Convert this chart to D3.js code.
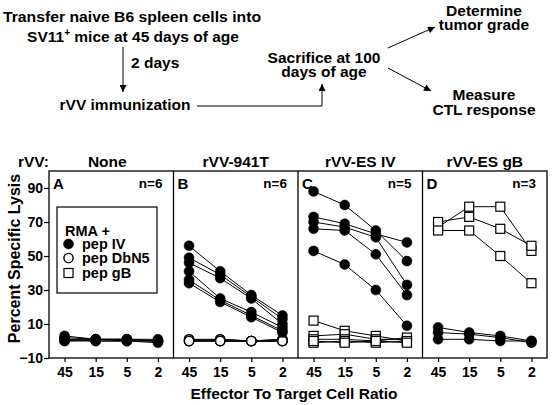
<!DOCTYPE html>
<html>
<head>
<meta charset="utf-8">
<script src="https://cdn.jsdelivr.net/npm/d3@7"></script>
<style>
  html, body { margin: 0; padding: 0; background: #fff; }
  svg { display: block; }
  text { font-family: "Liberation Sans", Arial, Helvetica, sans-serif; font-weight: bold; fill: #000; }
</style>
</head>
<body>
<svg id="chart" width="557" height="405"></svg>
<script>
// ---------- data ----------
const ratios = ["45", "15", "5", "2"];
const yTicks = [-10, 10, 30, 50, 70, 90];
const panelLetters = ["A", "B", "C", "D"];
const panelTitles = ["None", "rVV-941T", "rVV-ES IV", "rVV-ES gB"];
const panelN = ["n=6", "n=6", "n=5", "n=3"];

// Panel A (None): pep IV lines
const panelA_pepIV = [
  [3, 1, 1, 0],
  [2, 1, 1, 1],
  [1, 0, 0, 0],
  [0, 1, 1, 0],
  [0, 0, 0, -1],
  [1, 1, 0, 0]
];
// Panel B (rVV-941T)
const panelB_pepIV = [
  [56, 41, 27, 15],
  [49, 39, 26, 13],
  [46, 37, 25, 10],
  [41, 25, 17, 8],
  [36, 24, 15, 6],
  [34, 23, 14, 5]
];
const panelB_pepDbN5 = [
  [1, 1, 0, 0],
  [0, 0, 0, 1],
  [0, 1, 0, 0],
  [1, 0, 0, 0],
  [0, 0, 0, 1],
  [0, 0, 0, 0]
];
// Panel C (rVV-ES IV)
const panelC_pepIV = [
  [88, 80, 65, 47],
  [73, 69, 63, 58],
  [70, 67, 61, 33],
  [66, 65, 51, 27],
  [53, 45, 30, 9]
];
const panelC_pepgB = [
  [12, 6, 3, 0],
  [3, 4, 1, 1],
  [1, 1, 0, 2],
  [-1, 0, -1, 0],
  [0, -1, 0, -1]
];
// Panel D (rVV-ES gB)
const panelD_pepgB = [
  [67, 79, 79, 53],
  [70, 73, 66, 56],
  [65, 65, 50, 34]
];
const panelD_pepIV = [
  [8, 5, 3, 0],
  [5, 4, 2, -1],
  [1, 1, 0, 0]
];

const legendTitle = "RMA +";
const legendItems = [
  { label: "pep IV", type: "filled" },
  { label: "pep DbN5", type: "open" },
  { label: "pep gB", type: "square" }
];

// series per panel (drawing order)
const panels = [
  [{ type: "filled", lines: panelA_pepIV }],
  [{ type: "open", lines: panelB_pepDbN5 }, { type: "filled", lines: panelB_pepIV }],
  [{ type: "square", lines: panelC_pepgB }, { type: "filled", lines: panelC_pepIV }],
  [{ type: "filled", lines: panelD_pepIV }, { type: "square", lines: panelD_pepgB }]
];

// ---------- layout ----------
const svg = d3.select("#chart");
const plotLeft = 49, plotRight = 547, plotTop = 171, plotBottom = 358;
const panelW = (plotRight - plotLeft) / 4;

const y = d3.scaleLinear().domain([-10, 100]).range([plotBottom, plotTop]);

// ---------- flowchart ----------
const defs = svg.append("defs");
defs.append("marker")
  .attr("id", "arrow")
  .attr("viewBox", "0 0 10 10")
  .attr("refX", 10).attr("refY", 5)
  .attr("markerWidth", 10).attr("markerHeight", 7)
  .attr("markerUnits", "userSpaceOnUse")
  .attr("orient", "auto")
  .append("path").attr("d", "M0,0 L10,5 L0,10 z").attr("fill", "#000");

const flow = svg.append("g").attr("font-size", 15.5);
function ctext(x, yy, s, len) {
  const t = flow.append("text").attr("x", x).attr("y", yy).attr("text-anchor", "middle").text(s);
  if (len) t.attr("textLength", len).attr("lengthAdjust", "spacingAndGlyphs");
  return t;
}
ctext(132, 22, "Transfer naive B6 spleen cells into", 258);
const t2 = flow.append("text").attr("x", 133).attr("y", 42).attr("text-anchor", "middle");
t2.append("tspan").text("SV11");
t2.append("tspan").attr("font-size", 10).attr("dy", -6).text("+");
t2.append("tspan").attr("dy", 6).text(" mice at 45 days of age");

flow.append("line").attr("x1", 123).attr("y1", 47).attr("x2", 123).attr("y2", 92)
  .attr("stroke", "#000").attr("stroke-width", 1).attr("marker-end", "url(#arrow)");
flow.append("text").attr("x", 131).attr("y", 68).text("2 days");
ctext(125, 110, "rVV immunization");
flow.append("path").attr("d", "M197,106 L322,106 L322,84").attr("fill", "none")
  .attr("stroke", "#000").attr("stroke-width", 1).attr("marker-end", "url(#arrow)");
ctext(324, 63, "Sacrifice at 100");
ctext(324, 77, "days of age");
flow.append("line").attr("x1", 388).attr("y1", 48).attr("x2", 435).attr("y2", 27)
  .attr("stroke", "#000").attr("stroke-width", 1).attr("marker-end", "url(#arrow)");
flow.append("line").attr("x1", 388).attr("y1", 68).attr("x2", 431).attr("y2", 91)
  .attr("stroke", "#000").attr("stroke-width", 1).attr("marker-end", "url(#arrow)");
ctext(484, 16, "Determine");
ctext(484, 30, "tumor grade");
ctext(484, 100, "Measure");
ctext(484, 115, "CTL response");

// ---------- chart ----------
svg.append("text").attr("x", 18).attr("y", 161).attr("dominant-baseline", "central")
  .attr("font-size", 15.5).text("rVV:");

// y axis
const yAxis = d3.axisLeft(y).tickValues(yTicks).tickSize(5).tickFormat(d3.format("d"));
const yg = svg.append("g").attr("transform", `translate(${plotLeft},0)`).call(yAxis);
yg.select(".domain").remove();
yg.selectAll(".tick line").attr("stroke", "#000").attr("stroke-width", 1.2);
yg.selectAll(".tick text").attr("font-size", 14).attr("x", -6).attr("font-family", '"Liberation Sans", Arial, sans-serif').attr("font-weight", "bold").attr("fill", "#000");

svg.append("text").attr("transform", `translate(20,${(plotTop + plotBottom) / 2 - 6}) rotate(-90)`)
  .attr("text-anchor", "middle").attr("font-size", 16).text("Percent Specific Lysis");

function drawMarkers(g, x, type, vals) {
  if (type === "square") {
    g.selectAll(null).data(vals).join("rect")
      .attr("x", (d, i) => x(ratios[i]) - 4.5).attr("y", d => y(d) - 4.5)
      .attr("width", 9).attr("height", 9)
      .attr("fill", "#fff").attr("stroke", "#000").attr("stroke-width", 1.2);
  } else {
    g.selectAll(null).data(vals).join("circle")
      .attr("cx", (d, i) => x(ratios[i])).attr("cy", d => y(d))
      .attr("r", type === "filled" ? 5 : 4.6)
      .attr("fill", type === "filled" ? "#000" : "#fff")
      .attr("stroke", "#000").attr("stroke-width", type === "filled" ? 0.5 : 1.4);
  }
}

panels.forEach((series, pi) => {
  const x0 = plotLeft + pi * panelW;
  const x = d3.scalePoint().domain(ratios).range([x0, x0 + panelW]).padding(0.5);
  const g = svg.append("g");

  // x axis
  const xg = svg.append("g").attr("transform", `translate(0,${plotBottom})`)
    .call(d3.axisBottom(x).tickSize(4).tickPadding(5));
  xg.select(".domain").remove();
  xg.selectAll(".tick line").attr("stroke", "#000").attr("stroke-width", 1.2);
  xg.selectAll(".tick text").attr("font-size", 14).attr("font-family", '"Liberation Sans", Arial, sans-serif').attr("font-weight", "bold").attr("fill", "#000");

  // title
  svg.append("text").attr("x", x0 + panelW / 2 + (pi === 0 ? -4 : 0)).attr("y", 161)
    .attr("text-anchor", "middle").attr("dominant-baseline", "central").attr("font-size", 15.5).text(panelTitles[pi]);

  const line = d3.line().x((d, i) => x(ratios[i])).y(d => y(d));
  series.forEach(s => {
    s.lines.forEach(vals => {
      g.append("path").attr("d", line(vals)).attr("fill", "none").attr("stroke", "#000").attr("stroke-width", 1);
    });
  });
  series.forEach(s => {
    s.lines.forEach(vals => drawMarkers(g, x, s.type, vals));
  });

  svg.append("text").attr("x", x0 + 4).attr("y", plotTop + 12).attr("dominant-baseline", "central")
    .attr("font-size", 15).text(panelLetters[pi]);
  svg.append("text").attr("x", x0 + panelW - 11).attr("y", plotTop + 12).attr("dominant-baseline", "central")
    .attr("text-anchor", "end").attr("font-size", 13.5).text(panelN[pi]);

  if (pi > 0) {
    svg.append("line").attr("x1", x0).attr("x2", x0).attr("y1", plotTop).attr("y2", plotBottom)
      .attr("stroke", "#000").attr("stroke-width", 1.3);
  }
});

svg.append("rect").attr("x", plotLeft).attr("y", plotTop)
  .attr("width", plotRight - plotLeft).attr("height", plotBottom - plotTop)
  .attr("fill", "none").attr("stroke", "#000").attr("stroke-width", 1.3);

svg.append("text").attr("x", 294).attr("y", 393).attr("text-anchor", "middle")
  .attr("dominant-baseline", "central").attr("font-size", 15.5).text("Effector To Target Cell Ratio");

// legend
const lg = svg.append("g");
lg.append("rect").attr("x", 57).attr("y", 207).attr("width", 100).attr("height", 86)
  .attr("fill", "#fff").attr("stroke", "#000").attr("stroke-width", 1.2);
lg.append("text").attr("x", 65).attr("y", 231).attr("dominant-baseline", "central").attr("font-size", 14.5).text(legendTitle);
const legY = [244, 258, 273];
legendItems.forEach((it, i) => {
  const cy = legY[i];
  if (it.type === "square") {
    lg.append("rect").attr("x", 64).attr("y", cy - 4.5).attr("width", 9).attr("height", 9)
      .attr("fill", "#fff").attr("stroke", "#000").attr("stroke-width", 1.2);
  } else {
    lg.append("circle").attr("cx", 68.5).attr("cy", cy).attr("r", it.type === "filled" ? 5 : 4.6)
      .attr("fill", it.type === "filled" ? "#000" : "#fff").attr("stroke", "#000")
      .attr("stroke-width", it.type === "filled" ? 0.5 : 1.4);
  }
  lg.append("text").attr("x", 82).attr("y", cy).attr("dominant-baseline", "central").attr("font-size", 14.5).text(it.label);
});
</script>
</body>
</html>
